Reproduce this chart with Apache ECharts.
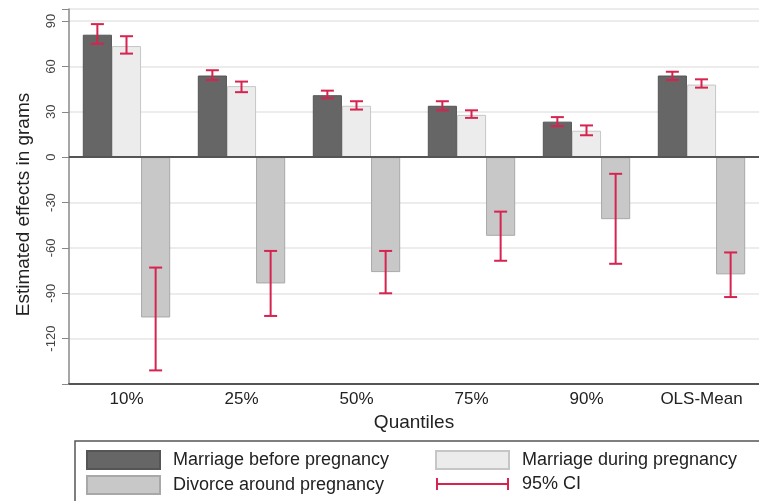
<!DOCTYPE html>
<html>
<head>
<meta charset="utf-8">
<title>Estimated effects by quantile</title>
<style>
body { margin: 0; background: #fff; }
#container { width: 759px; height: 501px; }
</style>
</head>
<body>
<div id="container"></div>
<script src="https://cdn.jsdelivr.net/npm/echarts@6/dist/echarts.min.js"></script>
<script type="text/javascript">

// categories on the x axis
var quantiles = ['10%', '25%', '50%', '75%', '90%', 'OLS-Mean'];

// point estimates (grams)
var beforeVals  = [81, 54, 41, 34, 23.5, 54];
var duringVals  = [73.5, 47, 34, 28, 17.5, 48];
var divorceVals = [-106, -83.5, -76, -52, -41, -77.5];

// 95% confidence bounds
var beforeLo  = [75, 51, 39, 31, 20.5, 51];
var beforeHi  = [88, 57.5, 44, 37, 26.5, 56.5];
var duringLo  = [68.5, 43, 31.5, 26, 14.5, 46];
var duringHi  = [80, 50, 37, 31, 21, 51.5];
var divorceLo = [-141, -105, -90, -68.5, -70.5, -92.5];
var divorceHi = [-73, -62, -62, -36, -11, -63];

var ciColor = '#d6234f';
var fontFam = '"Liberation Sans", Arial, sans-serif';

// build error bar rows: [category, low, high, bar slot]
var ciData = [];
var bounds = [[beforeLo, beforeHi], [duringLo, duringHi], [divorceLo, divorceHi]];
for (var k = 0; k < bounds.length; k++) {
	for (var i = 0; i < quantiles.length; i++) {
		ciData.push([i, bounds[k][0][i], bounds[k][1][i], k]);
	}
}

function renderCI(params, api) {
	var cat = api.value(0), lo = api.value(1), hi = api.value(2), slot = api.value(3);
	var band = api.size([1, 0])[0];
	var bw = band * 0.76 / 3;
	var x = api.coord([cat, 0])[0] + (slot - 1) * bw;
	var yLo = api.coord([cat, lo])[1];
	var yHi = api.coord([cat, hi])[1];
	var cap = 6.5;
	var st = { stroke: ciColor, lineWidth: 2 };
	return {
		type: 'group',
		children: [
			{ type: 'line', shape: { x1: x, y1: yLo, x2: x, y2: yHi }, style: st },
			{ type: 'line', shape: { x1: x - cap, y1: yLo, x2: x + cap, y2: yLo }, style: st },
			{ type: 'line', shape: { x1: x - cap, y1: yHi, x2: x + cap, y2: yHi }, style: st }
		]
	};
}

var ciIcon = 'image://data:image/svg+xml;utf8,' + encodeURIComponent(
	'<svg xmlns="http://www.w3.org/2000/svg" width="74" height="18">' +
	'<g stroke="' + ciColor + '" stroke-width="2">' +
	'<line x1="1" y1="9" x2="73" y2="9"/><line x1="1" y1="3" x2="1" y2="15"/>' +
	'<line x1="73" y1="3" x2="73" y2="15"/></g></svg>');

var myChart = echarts.init(document.getElementById('container'));

var legendText = { fontSize: 18, color: '#222', padding: [0, 0, 0, 8] };

var option = {
	animation: false,
	backgroundColor: '#fff',
	textStyle: { fontFamily: fontFam },
	grid: { left: 69, top: 9, width: 700, height: 375 },
	legend: [{
		left: 86, top: 450, orient: 'vertical', itemGap: 5, padding: 0,
		itemWidth: 73, itemHeight: 18, icon: 'rect',
		selectedMode: false,
		textStyle: legendText,
		data: ['Marriage before pregnancy', 'Divorce around pregnancy']
	}, {
		left: 435, top: 450, orient: 'vertical', itemGap: 5, padding: 0,
		itemWidth: 73, itemHeight: 18, icon: 'rect',
		selectedMode: false,
		textStyle: legendText,
		data: ['Marriage during pregnancy', { name: '95% CI', icon: ciIcon }]
	}],
	graphic: [{
		type: 'rect',
		shape: { x: 75, y: 441, width: 720, height: 80 },
		style: { fill: 'none', stroke: '#555', lineWidth: 1.5 }
	}],
	xAxis: [{
		type: 'category',
		data: quantiles,
		axisLine: { onZero: false, lineStyle: { color: '#555', width: 2 } },
		axisTick: { show: false },
		axisLabel: { fontSize: 17, color: '#222', margin: 7 },
		name: 'Quantiles',
		nameLocation: 'middle',
		nameGap: 28,
		nameTextStyle: { fontSize: 19, color: '#222' }
	}, {
		type: 'category',
		data: quantiles,
		position: 'top',
		axisLine: { lineStyle: { color: '#999', width: 1.5 } },
		axisTick: { show: false },
		axisLabel: { show: false }
	}],
	yAxis: {
		type: 'value',
		min: -150,
		max: 98,
		interval: 30,
		axisLine: { show: true, lineStyle: { color: '#888', width: 1.5 } },
		axisTick: { show: true, length: 7, lineStyle: { color: '#888' } },
		axisLabel: {
			rotate: 90, fontSize: 13, color: '#444', margin: 11,
			formatter: function (v) { return (v < -120 || v > 90) ? '' : v; }
		},
		splitLine: { lineStyle: { color: '#e6e6e6', width: 1.5 } },
		name: 'Estimated effects in grams',
		nameLocation: 'middle',
		nameGap: 36,
		nameTextStyle: { fontSize: 19, color: '#222', padding: [0, 16, 0, 0] }
	},
	series: [{
		name: 'Marriage before pregnancy',
		type: 'bar',
		data: beforeVals,
		barGap: '0%',
		barCategoryGap: '24%',
		itemStyle: { color: '#666666', borderColor: '#555', borderWidth: 1 },
		markLine: {
			silent: true,
			symbol: 'none',
			label: { show: false },
			lineStyle: { color: '#555', width: 2, type: 'solid' },
			data: [{ yAxis: 0 }]
		}
	}, {
		name: 'Marriage during pregnancy',
		type: 'bar',
		data: duringVals,
		barGap: '0%',
		barCategoryGap: '24%',
		itemStyle: { color: '#ececec', borderColor: '#c6c6c6', borderWidth: 1 }
	}, {
		name: 'Divorce around pregnancy',
		type: 'bar',
		data: divorceVals,
		barGap: '0%',
		barCategoryGap: '24%',
		itemStyle: { color: '#c8c8c8', borderColor: '#a8a8a8', borderWidth: 1 }
	}, {
		name: '95% CI',
		type: 'custom',
		renderItem: renderCI,
		itemStyle: { color: ciColor },
		encode: { x: 0, y: [1, 2] },
		data: ciData,
		z: 5
	}]
};

if (option && typeof option === "object") {
	myChart.setOption(option, true);
}
</script>
</body>
</html>
